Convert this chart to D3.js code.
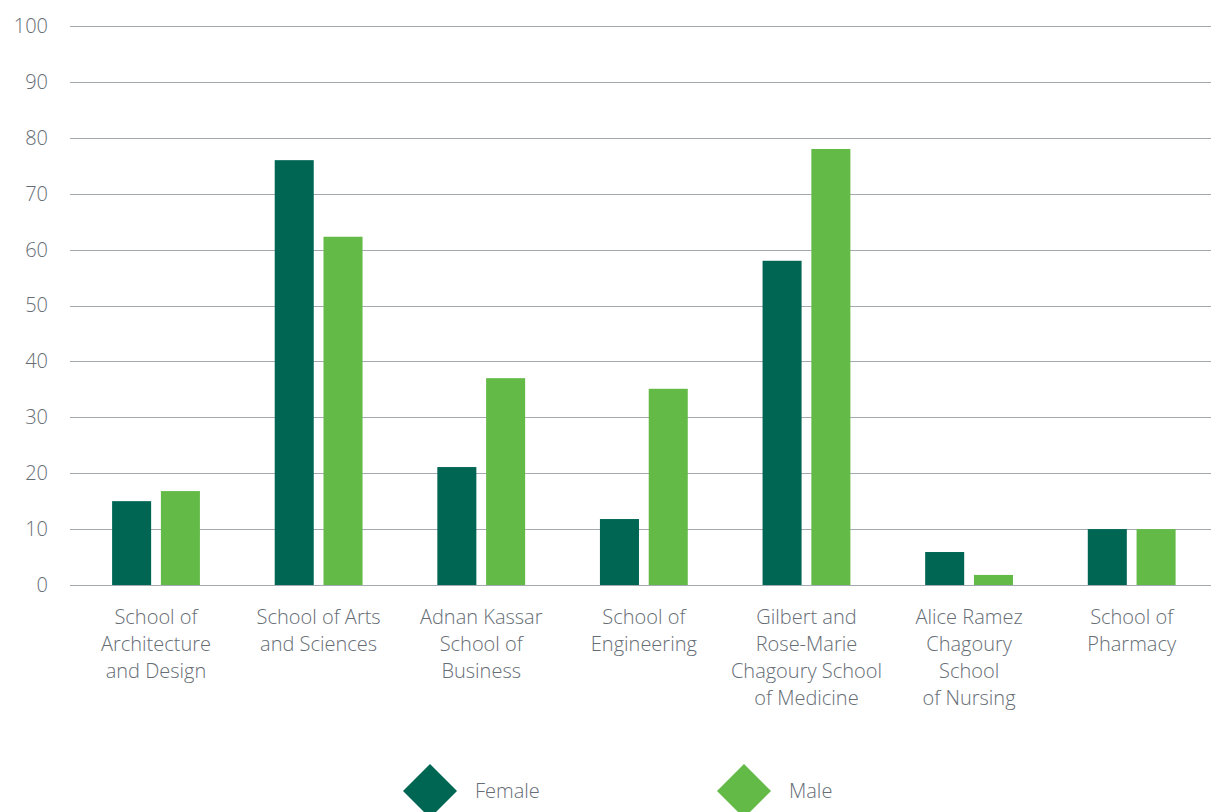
<!DOCTYPE html>
<html>
<head>
<meta charset="utf-8">
<script src="https://cdn.jsdelivr.net/npm/d3@7"></script>
<style>
  html, body { margin: 0; padding: 0; background: #ffffff; }
  svg { display: block; }
  text { font-family: "Open Sans", Lato, sans-serif; }
</style>
</head>
<body>
<svg id="chart" width="1211" height="812"></svg>
<script>
const categories = [
  "School of Architecture and Design",
  "School of Arts and Sciences",
  "Adnan Kassar School of Business",
  "School of Engineering",
  "Gilbert and Rose-Marie Chagoury School of Medicine",
  "Alice Ramez Chagoury School of Nursing",
  "School of Pharmacy"
];
const categoryLabelLines = [
  ["School of", "Architecture", "and Design"],
  ["School of Arts", "and Sciences"],
  ["Adnan Kassar", "School of", "Business"],
  ["School of", "Engineering"],
  ["Gilbert and", "Rose-Marie", "Chagoury School", "of Medicine"],
  ["Alice Ramez", "Chagoury", "School", "of Nursing"],
  ["School of", "Pharmacy"]
];
const seriesNames = ["Female", "Male"];
const female = [15, 76, 21.1, 11.8, 58, 5.9, 10];
const male = [16.8, 62.3, 37, 35.1, 78, 1.8, 10];
const yTicks = [0, 10, 20, 30, 40, 50, 60, 70, 80, 90, 100];

const colors = { Female: "#006654", Male: "#63BA47" };
const textColor = "#666d75";
const gridColor = "#a2a9b0";

const svg = d3.select("#chart");
const plotTop = 26, plotBottom = 585;
const gridLeft = 70, gridRight = 1211;

const y = d3.scaleLinear().domain([0, 100]).range([plotBottom, plotTop]);
const x0 = d3.scaleBand().domain(categories).range([74.7, 1213]).paddingInner(0.46).paddingOuter(0.23);
const x1 = d3.scaleBand().domain(seriesNames).range([0, x0.bandwidth()]).paddingInner(0.2);

// grid lines
svg.append("g").selectAll("line").data(yTicks).join("line")
  .attr("x1", gridLeft).attr("x2", gridRight)
  .attr("y1", d => Math.round(y(d)) + 0.5).attr("y2", d => Math.round(y(d)) + 0.5)
  .attr("stroke", gridColor).attr("stroke-width", 1);

// y axis labels
const yAxis = d3.axisLeft(y).tickValues(yTicks).tickSize(0).tickPadding(0);
const yg = svg.append("g").attr("transform", "translate(48,0)").call(yAxis);
yg.select(".domain").remove();
yg.selectAll("text").attr("fill", textColor).style("font-size", "20px")
  .style("font-family", "'Open Sans', sans-serif").style("font-weight", 300);

// bars
const rows = categories.map((c, i) => ({ cat: c, values: [
  { key: "Female", value: female[i] }, { key: "Male", value: male[i] }
]}));
const groups = svg.append("g").selectAll("g").data(rows).join("g")
  .attr("transform", d => `translate(${x0(d.cat)},0)`);
groups.selectAll("rect").data(d => d.values).join("rect")
  .attr("x", d => x1(d.key))
  .attr("width", x1.bandwidth())
  .attr("y", d => y(d.value))
  .attr("height", d => y(0) - y(d.value))
  .attr("fill", d => colors[d.key]);

// x labels
const xl = svg.append("g");
categories.forEach((c, i) => {
  const cx = x0(c) + x0.bandwidth() / 2;
  const t = xl.append("text").attr("text-anchor", "middle")
    .attr("fill", textColor).style("font-size", "20px").style("font-weight", 300);
  categoryLabelLines[i].forEach((line, j) => {
    t.append("tspan").attr("x", cx).attr("y", 624 + j * 27).text(line);
  });
});

// legend
const legendX = [430, 744];
const lg = svg.append("g");
seriesNames.forEach((s, i) => {
  const cx = legendX[i], cy = 791, r = 27;
  lg.append("path")
    .attr("d", `M${cx},${cy - r}L${cx + r},${cy}L${cx},${cy + r}L${cx - r},${cy}Z`)
    .attr("fill", colors[s]);
  lg.append("text").attr("x", cx + 45).attr("y", cy + 7)
    .attr("fill", textColor).style("font-size", "20px").style("font-weight", 300)
    .text(s);
});
</script>
</body>
</html>
